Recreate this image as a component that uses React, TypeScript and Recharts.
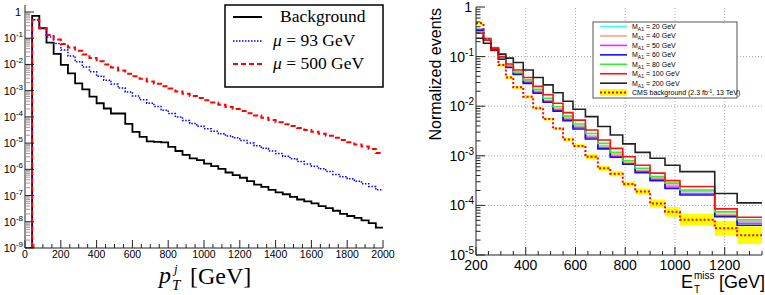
import React from 'react';
import { LineChart, ComposedChart, Line, Area, XAxis, YAxis, ReferenceLine } from 'recharts';

// ================= LEFT PANEL: jet pT (40 GeV bins), values are log10 of normalized counts =================
const ptBinLow = [40, 80, 120, 160, 200, 240, 280, 320, 360, 400, 440, 480, 520, 560, 600, 640, 680, 720, 760, 800,
  840, 880, 920, 960, 1000, 1040, 1080, 1120, 1160, 1200, 1240, 1280, 1320, 1360, 1400, 1440, 1480, 1520, 1560, 1600,
  1640, 1680, 1720, 1760, 1800, 1840, 1880, 1920, 1960];
const ptUpperEdge = 2000;
const backgroundLog10 = [-0.15, -0.62, -1.17, -1.6, -2.02, -2.34, -2.72, -2.95, -3.23, -3.48, -3.68, -3.87, -3.87, -4.27, -4.57,
  -4.76, -4.93, -4.95, -4.97, -5.14, -5.3, -5.45, -5.58, -5.65, -5.78, -5.88, -5.98, -6.12, -6.22, -6.32, -6.45, -6.58, -6.67,
  -6.78, -6.88, -6.95, -7.05, -7.15, -7.22, -7.3, -7.4, -7.48, -7.58, -7.7, -7.78, -7.85, -7.95, -8.05, -8.22];
const mu93Log10 = [-0.3, -0.62, -0.95, -1.2, -1.45, -1.68, -1.9, -2.1, -2.28, -2.45, -2.6, -2.75, -2.9, -3.05, -3.2, -3.35,
  -3.48, -3.6, -3.75, -3.87, -4.0, -4.14, -4.25, -4.36, -4.45, -4.55, -4.64, -4.73, -4.8, -4.9, -5.0, -5.1, -5.2, -5.3, -5.4,
  -5.5, -5.6, -5.7, -5.8, -5.88, -5.98, -6.08, -6.2, -6.28, -6.36, -6.45, -6.55, -6.65, -6.78];
const mu500Log10 = [-0.3, -0.62, -0.88, -1.05, -1.22, -1.35, -1.48, -1.62, -1.75, -1.88, -2.0, -2.12, -2.23, -2.35, -2.45,
  -2.55, -2.65, -2.74, -2.83, -2.92, -3.03, -3.12, -3.2, -3.28, -3.37, -3.45, -3.54, -3.62, -3.7, -3.78, -3.86, -3.95, -4.03,
  -4.12, -4.2, -4.28, -4.35, -4.42, -4.5, -4.57, -4.64, -4.72, -4.8, -4.88, -4.97, -5.05, -5.13, -5.22, -5.38];
const ptTickLabels = [0, 200, 400, 600, 800, 1000, 1200, 1400, 1600, 1800, 2000];
const leftYDecades = [-9, -8, -7, -6, -5, -4, -3, -2, -1, 0];
const LEFT_FLOOR = 1e-9;
const LEFT_TOP = 1.85;

// ================= RIGHT PANEL: MET (CMS binning), values are log10 of normalized events =================
const metEdges = [200, 230, 260, 290, 320, 350, 390, 430, 470, 510, 550, 590, 640, 690, 740, 790, 840, 900, 960, 1020, 1160, 1250];
const metUpperEdge = 1350;
const m20Log10 = [-0.44, -0.62, -0.82, -1.03, -1.2, -1.34, -1.51, -1.7, -1.89, -2.06, -2.25, -2.41, -2.61, -2.81, -2.98, -3.14, -3.3, -3.46, -3.6, -3.72, -4.19, -4.33];
const m40Log10 = [-0.45, -0.63, -0.82, -1.03, -1.2, -1.34, -1.5, -1.7, -1.88, -2.05, -2.24, -2.4, -2.6, -2.8, -2.97, -3.13, -3.29, -3.45, -3.59, -3.71, -4.18, -4.32];
const m50Log10 = [-0.46, -0.64, -0.83, -1.04, -1.21, -1.35, -1.52, -1.72, -1.9, -2.08, -2.27, -2.43, -2.63, -2.84, -3.01, -3.16, -3.32, -3.48, -3.63, -3.76, -4.21, -4.36];
const m60Log10 = [-0.47, -0.65, -0.84, -1.05, -1.22, -1.36, -1.54, -1.74, -1.92, -2.1, -2.29, -2.46, -2.66, -2.86, -3.03, -3.17, -3.34, -3.5, -3.66, -3.79, -4.23, -4.4];
const m80Log10 = [-0.5, -0.65, -0.83, -1.02, -1.18, -1.31, -1.47, -1.66, -1.84, -2.01, -2.2, -2.36, -2.55, -2.75, -2.93, -3.1, -3.25, -3.42, -3.55, -3.69, -4.13, -4.29];
const m100Log10 = [-0.53, -0.67, -0.83, -1.0, -1.15, -1.27, -1.42, -1.6, -1.77, -1.94, -2.13, -2.28, -2.48, -2.68, -2.85, -3.02, -3.19, -3.35, -3.5, -3.62, -4.07, -4.24];
const m200Log10 = [-0.63, -0.73, -0.87, -0.95, -1.03, -1.12, -1.27, -1.42, -1.57, -1.73, -1.9, -2.06, -2.21, -2.41, -2.58, -2.76, -2.93, -3.05, -3.19, -3.32, -3.76, -3.95];
const cmsLog10 = [-0.33, -0.645, -0.87, -1.17, -1.42, -1.62, -1.81, -2.04, -2.26, -2.45, -2.67, -2.8, -3.02, -3.25, -3.36, -3.57, -3.72, -3.96, -4.13, -4.29, -4.46, -4.6];
const cmsLowLog10 = [-0.36, -0.675, -0.9, -1.2, -1.45, -1.65, -1.84, -2.07, -2.29, -2.48, -2.71, -2.84, -3.07, -3.3, -3.41, -3.62, -3.78, -4.04, -4.23, -4.41, -4.61, -4.78];
const cmsHighLog10 = [-0.3, -0.615, -0.84, -1.14, -1.39, -1.59, -1.78, -2.01, -2.23, -2.42, -2.63, -2.76, -2.97, -3.2, -3.31, -3.52, -3.66, -3.88, -4.03, -4.17, -4.31, -4.42];
const metTickLabels = [200, 400, 600, 800, 1000, 1200];
const metGridX = [400, 600, 800, 1000, 1200];
const rightYDecades = [-5, -4, -3, -2, -1, 0];
const rightGridY = [1e-1, 1e-2, 1e-3, 1e-4];

const signalSeries = [
  { key: 'm20', mass: '20', color: '#33ffff', log: m20Log10 },
  { key: 'm40', mass: '40', color: '#ffa477', log: m40Log10 },
  { key: 'm50', mass: '50', color: '#ff22ff', log: m50Log10 },
  { key: 'm60', mass: '60', color: '#1111ee', log: m60Log10 },
  { key: 'm80', mass: '80', color: '#33ee33', log: m80Log10 },
  { key: 'm100', mass: '100', color: '#ff1111', log: m100Log10 },
  { key: 'm200', mass: '200', color: '#222222', log: m200Log10 },
];

const p10 = (e: number) => Math.pow(10, e);

// ---- build left data (step histograms) ----
const leftData: any[] = [{ pt: 0, bg: LEFT_FLOOR, mu93: LEFT_FLOOR, mu500: LEFT_FLOOR }];
ptBinLow.forEach((x, i) => {
  leftData.push({ pt: x, bg: p10(backgroundLog10[i]), mu93: p10(mu93Log10[i]), mu500: p10(mu500Log10[i]) });
});
{
  const n = ptBinLow.length - 1;
  leftData.push({ pt: ptUpperEdge, bg: p10(backgroundLog10[n]), mu93: p10(mu93Log10[n]), mu500: p10(mu500Log10[n]) });
}

// ---- build right data ----
const rightData: any[] = [];
const makeRightRow = (x: number, i: number) => {
  const row: any = { met: x, cms: p10(cmsLog10[i]), band: [p10(cmsLowLog10[i]), p10(cmsHighLog10[i])] };
  signalSeries.forEach((s) => { row[s.key] = p10(s.log[i]); });
  return row;
};
metEdges.forEach((x, i) => rightData.push(makeRightRow(x, i)));
rightData.push(makeRightRow(metUpperEdge, metEdges.length - 1));

// ---- tick lists ----
const logTicks = (decades: number[]) => {
  const t: number[] = [];
  decades.forEach((d, idx) => {
    t.push(p10(d));
    if (idx < decades.length - 1) for (let m = 2; m <= 9; m++) t.push(m * p10(d));
  });
  return t;
};
const leftYTicks = logTicks(leftYDecades);
const rightYTicks = logTicks(rightYDecades);
const leftXTicks: number[] = [];
for (let v = 0; v <= 2000; v += 50) leftXTicks.push(v);
const rightXTicks: number[] = [];
for (let v = 200; v <= 1350; v += 50) rightXTicks.push(v);

const isDecade = (v: number) => Math.abs(Math.log10(v) - Math.round(Math.log10(v))) < 1e-6;
const SANS = '"Liberation Sans", Arial, Helvetica, sans-serif';
const SERIF = '"Liberation Serif", "Times New Roman", serif';

// ---- tick renderers ----
const LeftXTick = (p: any) => {
  const v = p.payload.value;
  const major = ptTickLabels.includes(v);
  return (
    <g>
      <line x1={p.x} x2={p.x} y1={p.y} y2={p.y - (major ? 8 : 4)} stroke="#222" strokeWidth={1} />
      {major && (
        <text x={p.x} y={p.y + 10} textAnchor="middle" fontSize={10.5} fontFamily={SANS} fill="#000">{v}</text>
      )}
    </g>
  );
};
const LeftYTick = (p: any) => {
  const v = p.payload.value;
  const d = isDecade(v);
  const e = Math.round(Math.log10(v));
  return (
    <g>
      <line x1={p.x} x2={p.x + (d ? 9 : 5)} y1={p.y} y2={p.y} stroke={d ? '#222' : '#999'} strokeWidth={1} />
      {d && (e === 0 ? (
        <text x={p.x - 4} y={p.y + 4} textAnchor="end" fontSize={11} fontFamily={SANS} fill="#000">1</text>
      ) : (
        <text x={p.x - 2} y={p.y + 4} textAnchor="end" fontSize={11} fontFamily={SANS} fill="#000">
          <tspan>10</tspan>
          <tspan fontSize={8} dy={-5}>{e}</tspan>
        </text>
      ))}
    </g>
  );
};
const RightXTick = (p: any) => {
  const v = p.payload.value;
  const major = metTickLabels.includes(v);
  return (
    <g>
      <line x1={p.x} x2={p.x} y1={p.y} y2={p.y - (major ? 8 : 4)} stroke="#222" strokeWidth={1} />
      {major && (
        <text x={p.x} y={p.y + 15} textAnchor="middle" fontSize={14} fontFamily={SANS} fill="#000">{v}</text>
      )}
    </g>
  );
};
const RightXTopTick = (p: any) => {
  const v = p.payload.value;
  const major = v % 200 === 0;
  return <line x1={p.x} x2={p.x} y1={p.y} y2={p.y + (major ? 8 : 4)} stroke="#222" strokeWidth={1} />;
};
const RightYTick = (p: any) => {
  const v = p.payload.value;
  const d = isDecade(v);
  const e = Math.round(Math.log10(v));
  return (
    <g>
      <line x1={p.x} x2={p.x + (d ? 9 : 4.5)} y1={p.y} y2={p.y} stroke="#222" strokeWidth={1} />
      {d && (e === 0 ? (
        <text x={p.x - 4} y={p.y + 5} textAnchor="end" fontSize={14} fontFamily={SANS} fill="#000">1</text>
      ) : (
        <text x={p.x - 2} y={p.y + 5} textAnchor="end" fontSize={14} fontFamily={SANS} fill="#000">
          <tspan>10</tspan>
          <tspan fontSize={10} dy={-6}>{e}</tspan>
        </text>
      ))}
    </g>
  );
};
const RightYRightTick = (p: any) => {
  const v = p.payload.value;
  const d = isDecade(v);
  return <line x1={p.x} x2={p.x - (d ? 9 : 4.5)} y1={p.y} y2={p.y} stroke="#222" strokeWidth={1} />;
};

export default function App() {
  return (
    <div style={{ position: 'absolute', left: 0, top: 0, width: 765, height: 295, background: '#fff', overflow: 'hidden' }}>
      {/* LEFT PANEL */}
      <div style={{ position: 'absolute', left: 0, top: 0 }}>
        <LineChart width={395} height={295} data={leftData} margin={{ top: 5, right: 12, bottom: 0, left: 0 }}>
          <XAxis dataKey="pt" type="number" domain={[0, 2000]} allowDataOverflow ticks={leftXTicks} interval={0}
            tickSize={0} tickMargin={0} tick={(p: any) => <LeftXTick {...p} />} height={47} axisLine={{ stroke: '#222' }} />
          <XAxis xAxisId="top" orientation="top" dataKey="pt" type="number" domain={[0, 2000]} allowDataOverflow height={0}
            tick={false} tickLine={false} axisLine={{ stroke: '#777' }} />
          <YAxis type="number" scale="log" domain={[LEFT_FLOOR, LEFT_TOP]} allowDataOverflow ticks={leftYTicks} interval={0}
            tickSize={0} tickMargin={0} tick={(p: any) => <LeftYTick {...p} />} width={25} axisLine={{ stroke: '#222' }} />
          <YAxis yAxisId="right" orientation="right" type="number" scale="log" domain={[LEFT_FLOOR, LEFT_TOP]} allowDataOverflow
            width={0} tick={false} tickLine={false} axisLine={{ stroke: '#777' }} />
          <Line type="stepAfter" dataKey="bg" stroke="#000" strokeWidth={1.8} dot={false} isAnimationActive={false} />
          <Line type="stepAfter" dataKey="mu93" stroke="#0000ff" strokeWidth={1.5} strokeDasharray="1.5 1.5" dot={false} isAnimationActive={false} />
          <Line type="stepAfter" dataKey="mu500" stroke="#ff0000" strokeWidth={2} strokeDasharray="5 3" dot={false} isAnimationActive={false} />
        </LineChart>
      </div>

      {/* RIGHT PANEL */}
      <div style={{ position: 'absolute', left: 400, top: 0 }}>
        <ComposedChart width={365} height={295} data={rightData} margin={{ top: 7, right: 3, bottom: 0, left: 0 }}>
          <XAxis dataKey="met" type="number" domain={[200, 1350]} allowDataOverflow ticks={rightXTicks} interval={0}
            tickSize={0} tickMargin={0} tick={(p: any) => <RightXTick {...p} />} height={40} axisLine={{ stroke: '#222' }} />
          <XAxis xAxisId="top" orientation="top" dataKey="met" type="number" domain={[200, 1350]} allowDataOverflow height={0}
            ticks={rightXTicks} interval={0} tickSize={0} tickMargin={0} tick={(p: any) => <RightXTopTick {...p} />} axisLine={{ stroke: '#222' }} />
          <YAxis type="number" scale="log" domain={[1e-5, 1]} allowDataOverflow ticks={rightYTicks} interval={0}
            tickSize={0} tickMargin={0} tick={(p: any) => <RightYTick {...p} />} width={76} axisLine={{ stroke: '#222' }} />
          <YAxis yAxisId="right" orientation="right" type="number" scale="log" domain={[1e-5, 1]} allowDataOverflow
            ticks={rightYTicks} interval={0} tickSize={0} tickMargin={0} width={0} tick={(p: any) => <RightYRightTick {...p} />} axisLine={{ stroke: '#222' }} />
          {metGridX.map((v) => (
            <ReferenceLine key={'gx' + v} x={v} stroke="#aaa" strokeDasharray="1 2" strokeWidth={1} />
          ))}
          {rightGridY.map((v) => (
            <ReferenceLine key={'gy' + v} y={v} stroke="#aaa" strokeDasharray="1 2" strokeWidth={1} />
          ))}
          <Area type="stepAfter" dataKey="band" stroke="none" fill="#ffff00" fillOpacity={1} isAnimationActive={false} />
          {signalSeries.map((s) => (
            <Line key={s.key} type="stepAfter" dataKey={s.key} stroke={s.color} strokeWidth={1.6} dot={false} isAnimationActive={false} />
          ))}
          <Line type="stepAfter" dataKey="cms" stroke="#ff0000" strokeWidth={2} strokeDasharray="2 2" dot={false} isAnimationActive={false} />
        </ComposedChart>
      </div>

      {/* TEXT OVERLAY: axis titles and legends */}
      <svg width={765} height={295} style={{ position: 'absolute', left: 0, top: 0, pointerEvents: 'none' }}>
        {/* left legend */}
        <rect x={225} y={5} width={158} height={82} fill="#fff" stroke="#000" strokeWidth={1.5} />
        <line x1={233} x2={262} y1={17} y2={17} stroke="#000" strokeWidth={2} />
        <line x1={233} x2={262} y1={41} y2={41} stroke="#0000ff" strokeWidth={1.5} strokeDasharray="1.5 1.5" />
        <line x1={233} x2={262} y1={64} y2={64} stroke="#ff0000" strokeWidth={2} strokeDasharray="5 3" />
        <text x={280} y={22} fontSize={17.5} fontFamily={SERIF} fill="#000">Background</text>
        <text x={273} y={46} fontSize={17.5} fontFamily={SERIF} fill="#000">
          <tspan fontStyle="italic">μ</tspan> = 93 GeV
        </text>
        <text x={273} y={69} fontSize={17.5} fontFamily={SERIF} fill="#000">
          <tspan fontStyle="italic">μ</tspan> = 500 GeV
        </text>
        {/* left x title */}
        <text x={159} y={283} fontSize={24} fontFamily={SERIF} fontStyle="italic" fill="#000">p</text>
        <text x={174} y={273} fontSize={13} fontFamily={SERIF} fontStyle="italic" fill="#000">j</text>
        <text x={172} y={290} fontSize={15} fontFamily={SERIF} fontStyle="italic" fill="#000">T</text>
        <text x={190} y={284} fontSize={24} fontFamily={SERIF} fill="#000">[GeV]</text>

        {/* right y title */}
        <text transform="translate(441,8) rotate(-90)" textAnchor="end" fontSize={16} fontFamily={SANS} fill="#000">Normalized events</text>
        {/* right x title */}
        <text x={681} y={288} fontSize={18} fontFamily={SANS} fill="#000">E</text>
        <text x={694} y={279} fontSize={10} fontFamily={SANS} fill="#000">miss</text>
        <text x={694} y={293} fontSize={10} fontFamily={SANS} fill="#000">T</text>
        <text x={719} y={288} fontSize={18} fontFamily={SANS} fill="#000">[GeV]</text>

        {/* right legend */}
        <rect x={593} y={22} width={144} height={76} fill="#fff" stroke="#555" strokeWidth={1} />
        {signalSeries.map((s, i) => {
          const y = 26.5 + i * 9.45;
          return (
            <g key={'lg' + s.key}>
              <line x1={600} x2={627} y1={y} y2={y} stroke={s.color} strokeWidth={1.6} />
              <text x={632} y={y + 2.5} fontSize={7} fontFamily={SANS} fill="#000">
                M<tspan fontSize={5} dy={1.8}>A1</tspan><tspan dy={-1.8}> = {s.mass} GeV</tspan>
              </text>
            </g>
          );
        })}
        <rect x={600} y={89} width={27} height={7} fill="#ffff00" />
        <line x1={600} x2={627} y1={92.6} y2={92.6} stroke="#ff0000" strokeWidth={2} strokeDasharray="2 2" />
        <text x={632} y={95.2} fontSize={7} fontFamily={SANS} fill="#000">
          CMS background (2.3 fb<tspan fontSize={5} dy={-2.5}>-1</tspan><tspan dy={2.5}>, 13 TeV)</tspan>
        </text>
      </svg>
    </div>
  );
}
